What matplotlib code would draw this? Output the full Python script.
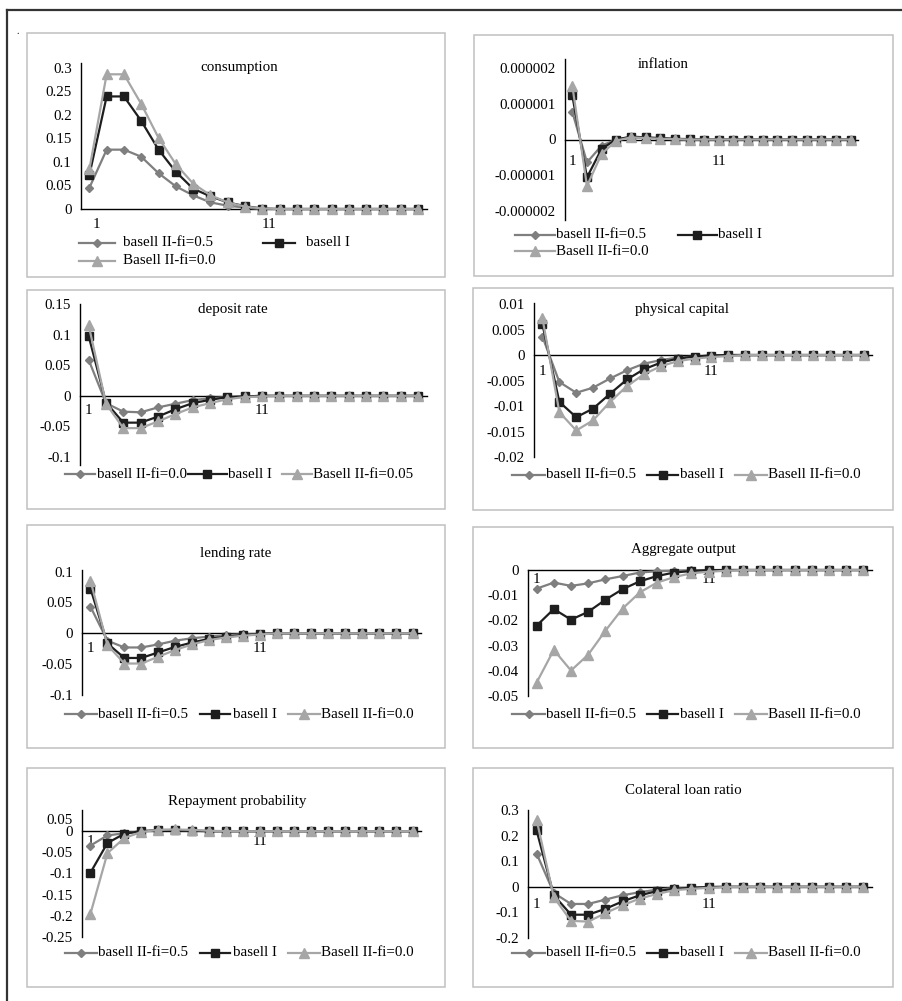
import matplotlib
matplotlib.use('Agg')
import matplotlib.pyplot as plt
from matplotlib.lines import Line2D
from matplotlib.patches import Rectangle
from matplotlib.transforms import ScaledTranslation

W, H = 903, 1001
plt.rcParams['font.family'] = ['Liberation Serif', 'DejaVu Serif']
plt.rcParams['font.size'] = 10.8

periods = list(range(1, 21))
x_tick_pos = [1, 11]
x_tick_lab = ['1', '11']

# ---------------- data ----------------
cons_a = [0.045, 0.126, 0.126, 0.111, 0.076, 0.048, 0.029, 0.014, 0.007, 0.003, 0.0, 0.0, 0.0, 0.0, 0.0, 0.0, 0.0, 0.0, 0.0, 0.0]
cons_b = [0.072, 0.239, 0.239, 0.187, 0.126, 0.079, 0.043, 0.027, 0.014, 0.006, 0.001, 0.0, 0.0, 0.0, 0.0, 0.0, 0.0, 0.0, 0.0, 0.0]
cons_c = [0.084, 0.286, 0.286, 0.223, 0.151, 0.095, 0.054, 0.029, 0.014, 0.005, 0.001, 0.0, 0.0, 0.0, 0.0, 0.0, 0.0, 0.0, 0.0, 0.0]
cons_yt = [0, 0.05, 0.1, 0.15, 0.2, 0.25, 0.3]
cons_yl = ['0', '0.05', '0.1', '0.15', '0.2', '0.25', '0.3']

infl_a = [0.77e-6, -0.64e-6, -0.17e-6, 0.0, 0.06e-6, 0.05e-6, 0.03e-6, 0.01e-6, 0.0, 0.0, 0.0, 0.0, 0.0, 0.0, 0.0, 0.0, 0.0, 0.0, 0.0, 0.0]
infl_b = [1.23e-6, -1.06e-6, -0.26e-6, 0.0, 0.08e-6, 0.06e-6, 0.04e-6, 0.02e-6, 0.01e-6, 0.0, 0.0, 0.0, 0.0, 0.0, 0.0, 0.0, 0.0, 0.0, 0.0, 0.0]
infl_c = [1.5e-6, -1.3e-6, -0.4e-6, -0.03e-6, 0.06e-6, 0.04e-6, 0.02e-6, 0.01e-6, 0.0, 0.0, 0.0, 0.0, 0.0, 0.0, 0.0, 0.0, 0.0, 0.0, 0.0, 0.0]
infl_yt = [-2e-6, -1e-6, 0, 1e-6, 2e-6]
infl_yl = ['-0.000002', '-0.000001', '0', '0.000001', '0.000002']

dep_a = [0.059, -0.012, -0.026, -0.027, -0.019, -0.013, -0.007, -0.004, -0.002, -0.001, 0.0, 0.0, 0.0, 0.0, 0.0, 0.0, 0.0, 0.0, 0.0, 0.0]
dep_b = [0.098, -0.011, -0.044, -0.044, -0.034, -0.022, -0.012, -0.0066, -0.002, -0.001, 0.0, 0.0, 0.0, 0.0, 0.0, 0.0, 0.0, 0.0, 0.0, 0.0]
dep_c = [0.116, -0.013, -0.053, -0.053, -0.042, -0.030, -0.019, -0.012, -0.0055, -0.002, -0.001, 0.0, 0.0, 0.0, 0.0, 0.0, 0.0, 0.0, 0.0, 0.0]
dep_yt = [-0.1, -0.05, 0, 0.05, 0.1, 0.15]
dep_yl = ['-0.1', '-0.05', '0', '0.05', '0.1', '0.15']

cap_a = [0.0036, -0.0053, -0.0074, -0.0064, -0.0046, -0.003, -0.0017, -0.001, -0.0005, -0.0003, -0.0001, 0.0, 0.0, 0.0, 0.0, 0.0, 0.0, 0.0, 0.0, 0.0]
cap_b = [0.006, -0.0092, -0.0122, -0.0105, -0.0076, -0.0048, -0.0028, -0.0015, -0.0007, -0.0003, -0.0001, 0.0, 0.0, 0.0, 0.0, 0.0, 0.0, 0.0, 0.0, 0.0]
cap_c = [0.0072, -0.0112, -0.0148, -0.0128, -0.0092, -0.0061, -0.0038, -0.0022, -0.0012, -0.0007, -0.0004, -0.0002, 0.0, 0.0, 0.0, 0.0, 0.0, 0.0, 0.0, 0.0]
cap_yt = [-0.02, -0.015, -0.01, -0.005, 0, 0.005, 0.01]
cap_yl = ['-0.02', '-0.015', '-0.01', '-0.005', '0', '0.005', '0.01']

lend_a = [0.043, -0.012, -0.023, -0.023, -0.018, -0.012, -0.008, -0.0055, -0.003, -0.0017, -0.001, 0.0, 0.0, 0.0, 0.0, 0.0, 0.0, 0.0, 0.0, 0.0]
lend_b = [0.0725, -0.0165, -0.040, -0.040, -0.031, -0.022, -0.015, -0.009, -0.0055, -0.003, -0.001, 0.0, 0.0, 0.0, 0.0, 0.0, 0.0, 0.0, 0.0, 0.0]
lend_c = [0.085, -0.019, -0.049, -0.049, -0.038, -0.027, -0.018, -0.011, -0.0066, -0.004, -0.002, 0.0, 0.0, 0.0, 0.0, 0.0, 0.0, 0.0, 0.0, 0.0]
lend_yt = [-0.1, -0.05, 0, 0.05, 0.1]
lend_yl = ['-0.1', '-0.05', '0', '0.05', '0.1']

out_a = [-0.0074, -0.005, -0.0063, -0.0053, -0.0037, -0.0024, -0.001, -0.0005, -0.0003, -0.0001, 0.0, 0.0, 0.0, 0.0, 0.0, 0.0, 0.0, 0.0, 0.0, 0.0]
out_b = [-0.0221, -0.0155, -0.0197, -0.0166, -0.0118, -0.0076, -0.0045, -0.0024, -0.001, -0.0004, -0.0001, 0.0, 0.0, 0.0, 0.0, 0.0, 0.0, 0.0, 0.0, 0.0]
out_c = [-0.0447, -0.0317, -0.0399, -0.0336, -0.0241, -0.0153, -0.0089, -0.005, -0.0028, -0.0013, -0.0007, -0.0003, 0.0, 0.0, 0.0, 0.0, 0.0, 0.0, 0.0, 0.0]
out_yt = [-0.05, -0.04, -0.03, -0.02, -0.01, 0]
out_yl = ['-0.05', '-0.04', '-0.03', '-0.02', '-0.01', '0']

rep_a = [-0.034, -0.010, -0.005, 0.0, 0.003, 0.003, 0.0016, 0.0, 0.0, 0.0, 0.0, 0.0, 0.0, 0.0, 0.0, 0.0, 0.0, 0.0, 0.0, 0.0]
rep_b = [-0.098, -0.028, -0.006, 0.0, 0.0016, 0.002, 0.001, 0.0, 0.0, 0.0, 0.0, 0.0, 0.0, 0.0, 0.0, 0.0, 0.0, 0.0, 0.0, 0.0]
rep_c = [-0.195, -0.052, -0.016, -0.002, 0.003, 0.004, 0.003, 0.001, 0.0, 0.0, 0.0, 0.0, 0.0, 0.0, 0.0, 0.0, 0.0, 0.0, 0.0, 0.0]
rep_yt = [-0.25, -0.2, -0.15, -0.1, -0.05, 0, 0.05]
rep_yl = ['-0.25', '-0.2', '-0.15', '-0.1', '-0.05', '0', '0.05']

col_a = [0.13, -0.024, -0.067, -0.067, -0.05, -0.033, -0.021, -0.011, -0.005, -0.003, -0.001, 0.0, 0.0, 0.0, 0.0, 0.0, 0.0, 0.0, 0.0, 0.0]
col_b = [0.22, -0.033, -0.109, -0.109, -0.086, -0.057, -0.033, -0.017, -0.008, -0.004, -0.001, 0.0, 0.0, 0.0, 0.0, 0.0, 0.0, 0.0, 0.0, 0.0]
col_c = [0.262, -0.041, -0.133, -0.136, -0.103, -0.072, -0.046, -0.028, -0.013, -0.008, -0.004, -0.001, 0.0, 0.0, 0.0, 0.0, 0.0, 0.0, 0.0, 0.0]
col_yt = [-0.2, -0.1, 0, 0.1, 0.2, 0.3]
col_yl = ['-0.2', '-0.1', '0', '0.1', '0.2', '0.3']

names_std = ['basell II-fi=0.5', 'basell I', 'Basell II-fi=0.0']
names_dep = ['basell II-fi=0.0', 'basell I', 'Basell II-fi=0.05']

# ---------------- styles ----------------
STY = [
    dict(color='#7f7f7f', marker='D', ms=3.8, mfc='#7f7f7f', mec='#7f7f7f', lw=1.6),
    dict(color='#1e1e1e', marker='s', ms=5.6, mfc='#1e1e1e', mec='#1e1e1e', lw=1.6),
    dict(color='#a6a6a6', marker='^', ms=6.5, mfc='#a6a6a6', mec='#a6a6a6', lw=1.6),
]

fig = plt.figure(figsize=(W / 100, H / 100), dpi=100)


def fx(px):
    return px / W


def fy(py):
    return 1 - py / H


# outer frame (top and left)
fig.add_artist(Line2D([fx(7), fx(903)], [fy(10), fy(10)], color='#333333', lw=1.6))
fig.add_artist(Line2D([fx(7), fx(7)], [fy(10), fy(1001)], color='#333333', lw=1.6))
fig.text(fx(18), fy(31), '.', fontsize=7, ha='center', va='center')

panels = [
    dict(title='consumption', data=(cons_a, cons_b, cons_c), yt=cons_yt, yl=cons_yl, names=names_std,
         box=(27, 33, 445, 277), plot=(80.7, 426.7, 63, 209), ylim=(0, 0.31), tpos=(239, 67), xpad=6.5,
         xshift=7, yshift_top=0,
         leg=[(79, 115, 243, 123, 0), (263, 295, 243, 306, 1), (79, 115, 261, 123, 2)]),
    dict(title='inflation', data=(infl_a, infl_b, infl_c), yt=infl_yt, yl=infl_yl, names=names_std,
         box=(474, 35, 893, 276), plot=(565, 858, 59, 220), ylim=(-2.25e-6, 2.25e-6), tpos=(663, 65), xpad=11,
         xshift=0, yshift_top=0,
         leg=[(515, 555, 235, 556, 0), (678, 717, 235, 718, 1), (515, 555, 251, 556, 2)]),
    dict(title='deposit rate', data=(dep_a, dep_b, dep_c), yt=dep_yt, yl=dep_yl, names=names_dep,
         box=(27, 290, 445, 509), plot=(80, 426.7, 304, 465), ylim=(-0.1135, 0.1507), tpos=(233, 310), xpad=6,
         xshift=0, yshift_top=0,
         leg=[(65, 95, 474, 97, 0), (188, 227, 474, 228, 1), (282, 312, 474, 313, 2)]),
    dict(title='physical capital', data=(cap_a, cap_b, cap_c), yt=cap_yt, yl=cap_yl, names=names_std,
         box=(473, 288, 893, 510), plot=(534, 872, 303, 457), ylim=(-0.02, 0.0102), tpos=(682, 310), xpad=7,
         xshift=0, yshift_top=0,
         leg=[(512, 545, 475, 546, 0), (647, 678, 475, 680, 1), (735, 767, 475, 768, 2)]),
    dict(title='lending rate', data=(lend_a, lend_b, lend_c), yt=lend_yt, yl=lend_yl, names=names_std,
         box=(27, 525, 445, 748), plot=(82, 421, 570, 695), ylim=(-0.1, 0.1025), tpos=(236, 553), xpad=6,
         xshift=0, yshift_top=0,
         leg=[(65, 97, 714, 98, 0), (200, 230, 714, 233, 1), (288, 320, 714, 321, 2)]),
    dict(title='Aggregate output', data=(out_a, out_b, out_c), yt=out_yt, yl=out_yl, names=names_std,
         box=(473, 527, 893, 748), plot=(528, 872, 570, 696), ylim=(-0.05, 0), tpos=(683, 550), xpad=2,
         xshift=0, yshift_top=0,
         leg=[(512, 545, 714, 546, 0), (647, 678, 714, 680, 1), (735, 767, 714, 768, 2)]),
    dict(title='Repayment probability', data=(rep_a, rep_b, rep_c), yt=rep_yt, yl=rep_yl, names=names_std,
         box=(27, 768, 445, 987), plot=(82, 421, 810, 937), ylim=(-0.25, 0.05), tpos=(237, 801), xpad=3,
         xshift=0, yshift_top=-9,
         leg=[(65, 97, 953, 98, 0), (200, 230, 953, 233, 1), (288, 320, 953, 321, 2)]),
    dict(title='Colateral loan ratio', data=(col_a, col_b, col_c), yt=col_yt, yl=col_yl, names=names_std,
         box=(473, 768, 893, 987), plot=(528, 872, 810, 938), ylim=(-0.2, 0.3), tpos=(683, 790), xpad=8,
         xshift=0, yshift_top=0,
         leg=[(512, 545, 953, 546, 0), (647, 678, 953, 680, 1), (735, 767, 953, 768, 2)]),
]

for p in panels:
    bx0, by0, bx1, by1 = p['box']
    fig.add_artist(Rectangle((fx(bx0), fy(by1)), (bx1 - bx0) / W, (by1 - by0) / H,
                             transform=fig.transFigure, fill=False, ec='#c0c0c0', lw=1.1))
    x0, x1, y0, y1 = p['plot']
    ax = fig.add_axes([fx(x0), fy(y1), (x1 - x0) / W, (y1 - y0) / H])
    ax.patch.set_alpha(0)
    for vals, st in zip(p['data'], STY):
        ax.plot(periods, vals, clip_on=False, zorder=3, **st)
    ax.set_xlim(0.5, 20.5)
    ax.set_ylim(*p['ylim'])
    ax.spines['top'].set_visible(False)
    ax.spines['right'].set_visible(False)
    ax.spines['left'].set_color('black')
    ax.spines['left'].set_linewidth(1.0)
    ax.spines['bottom'].set_position(('data', 0))
    ax.spines['bottom'].set_color('black')
    ax.spines['bottom'].set_linewidth(1.0)
    ax.spines['bottom'].set_zorder(1)
    ax.set_yticks(p['yt'])
    ax.set_yticklabels(p['yl'])
    ax.set_xticks(x_tick_pos)
    ax.set_xticklabels(x_tick_lab)
    ax.tick_params(axis='y', length=0, pad=6.5)
    ax.tick_params(axis='x', length=0, pad=p['xpad'])
    if p['xshift']:
        off = ScaledTranslation(p['xshift'] / 100, 0, fig.dpi_scale_trans)
        for lab in ax.get_xticklabels():
            lab.set_transform(lab.get_transform() + off)
    if p['yshift_top']:
        off = ScaledTranslation(0, p['yshift_top'] / 100, fig.dpi_scale_trans)
        lab = ax.get_yticklabels()[-1]
        lab.set_transform(lab.get_transform() + off)
    fig.text(fx(p['tpos'][0]), fy(p['tpos'][1]), p['title'], ha='center', va='center')
    for hx0, hx1, hy, tx, si in p['leg']:
        st = STY[si]
        fig.add_artist(Line2D([fx(hx0), fx(hx1)], [fy(hy), fy(hy)], transform=fig.transFigure,
                              color=st['color'], lw=st['lw']))
        fig.add_artist(Line2D([fx((hx0 + hx1) / 2)], [fy(hy)], transform=fig.transFigure,
                              marker=st['marker'], ms=st['ms'], mfc=st['mfc'], mec=st['mec'], lw=0))
        fig.text(fx(tx), fy(hy), p['names'][si], ha='left', va='center')

fig.savefig('out.png', dpi=100)
